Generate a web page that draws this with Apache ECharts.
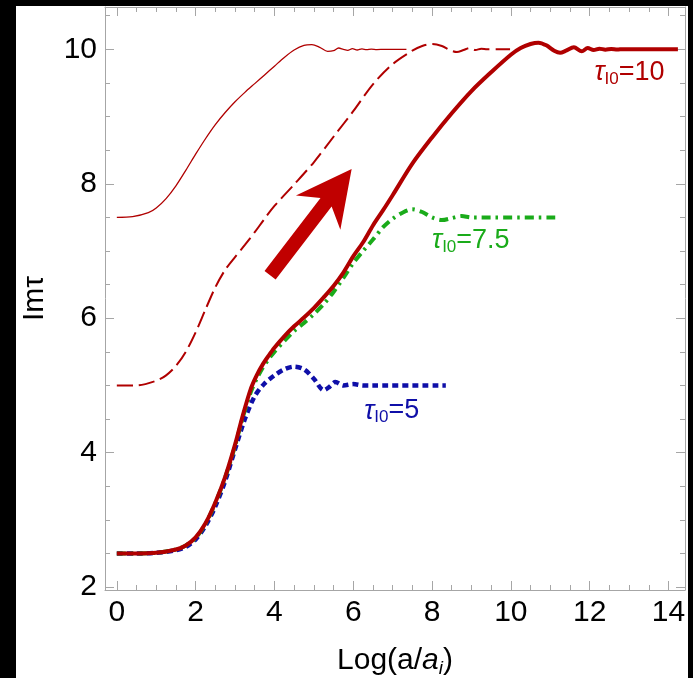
<!DOCTYPE html>
<html>
<head>
<meta charset="utf-8">
<script src="https://cdn.jsdelivr.net/npm/echarts@6/dist/echarts.min.js"></script>
<style>
html,body{margin:0;padding:0;background:#000;width:693px;height:678px;overflow:hidden;}
#chart{position:absolute;left:16px;top:6px;width:672px;height:672px;background:#fff;}
</style>
</head>
<body>
<div id="chart"></div>
<script>
// ---- data ----
var xMajorTicks = [0, 2, 4, 6, 8, 10, 12, 14];
var xMinorTicks = [0.5, 1, 1.5, 2.5, 3, 3.5, 4.5, 5, 5.5, 6.5, 7, 7.5, 8.5, 9, 9.5, 10.5, 11, 11.5, 12.5, 13, 13.5];
var yMajorTicks = [2, 4, 6, 8, 10];
var yMinorTicks = [2.5, 3, 3.5, 4.5, 5, 5.5, 6.5, 7, 7.5, 8.5, 9, 9.5, 10.5];

// thick red: tau_I0 = 10 starting from 2.5
var redThickX = [0, 0.5, 1.0, 1.5, 1.75, 2.0, 2.25, 2.5, 2.75, 3.0, 3.2, 3.4, 3.55, 3.7, 3.85, 4.0, 4.25, 4.5, 4.75, 5.0, 5.25, 5.5, 5.75, 6.0, 6.25, 6.5, 6.75, 7.0, 7.5, 8.0, 8.5, 9.0, 9.5, 10.0, 10.25, 10.5, 10.7, 10.9, 11.1, 11.25, 11.4, 11.6, 11.8, 11.95, 12.1, 12.25, 12.4, 12.55, 12.7, 12.85, 13.0, 13.5, 14.24];
var redThickY = [2.5, 2.5, 2.51, 2.56, 2.62, 2.74, 2.95, 3.26, 3.64, 4.12, 4.56, 4.95, 5.15, 5.31, 5.44, 5.56, 5.73, 5.88, 6.01, 6.15, 6.31, 6.48, 6.68, 6.92, 7.13, 7.38, 7.6, 7.83, 8.3, 8.69, 9.05, 9.38, 9.66, 9.92, 10.02, 10.08, 10.1, 10.06, 9.98, 9.95, 9.98, 10.03, 9.97, 10.02, 9.99, 10.01, 9.995, 10.006, 9.997, 10.003, 10.0, 10.0, 10.0];

// thin red: starting from 7.5
var redThinX = [0, 0.4, 0.8, 1.0, 1.25, 1.5, 1.75, 2.0, 2.25, 2.5, 2.75, 3.0, 3.25, 3.5, 3.75, 4.0, 4.25, 4.5, 4.75, 4.95, 5.15, 5.35, 5.5, 5.63, 5.75, 5.86, 5.98, 6.1, 6.22, 6.34, 6.46, 6.6, 6.8, 7.35];
var redThinY = [7.5, 7.51, 7.57, 7.64, 7.78, 7.97, 8.2, 8.44, 8.67, 8.88, 9.06, 9.22, 9.36, 9.49, 9.62, 9.75, 9.88, 9.99, 10.06, 10.07, 10.03, 9.97, 9.98, 10.02, 10.0, 9.985, 10.01, 9.99, 10.006, 9.995, 10.004, 9.997, 10.0, 10.0];

// dashed red: starting from 5
var redDashX = [0, 0.5, 1.0, 1.25, 1.5, 1.75, 2.0, 2.25, 2.5, 2.75, 3.0, 3.25, 3.5, 3.75, 4.0, 4.5, 5.0, 5.5, 6.0, 6.5, 7.0, 7.5, 7.75, 8.0, 8.25, 8.45, 8.63, 8.8, 8.95, 9.1, 9.25, 9.4, 9.98];
var redDashY = [5.0, 5.0, 5.07, 5.15, 5.29, 5.5, 5.79, 6.13, 6.46, 6.72, 6.91, 7.09, 7.28, 7.48, 7.67, 7.99, 8.32, 8.7, 9.08, 9.48, 9.78, 9.98, 10.05, 10.08, 10.05, 9.99, 9.96, 9.99, 10.02, 9.99, 10.01, 10.0, 10.0];

// green dash-dot: tau_I0 = 7.5
var greenX = [0, 0.5, 1.0, 1.5, 1.75, 2.0, 2.25, 2.5, 2.75, 3.0, 3.2, 3.4, 3.55, 3.7, 3.85, 4.0, 4.25, 4.5, 4.75, 5.0, 5.25, 5.5, 5.75, 6.0, 6.25, 6.5, 6.75, 7.0, 7.25, 7.5, 7.75, 8.0, 8.25, 8.5, 8.75, 9.0, 9.25, 11.2];
var greenY = [2.5, 2.5, 2.51, 2.56, 2.62, 2.73, 2.94, 3.25, 3.63, 4.1, 4.53, 4.9, 5.1, 5.26, 5.39, 5.5, 5.66, 5.81, 5.93, 6.06, 6.21, 6.39, 6.6, 6.82, 7.0, 7.17, 7.35, 7.48, 7.57, 7.62, 7.58, 7.5, 7.46, 7.49, 7.52, 7.5, 7.5, 7.5];

// blue dotted: tau_I0 = 5
var blueX = [0, 0.5, 1.0, 1.5, 1.75, 2.0, 2.25, 2.5, 2.75, 3.0, 3.25, 3.5, 3.75, 4.0, 4.25, 4.5, 4.75, 5.0, 5.25, 5.4, 5.55, 5.75, 6.0, 6.25, 6.5, 8.35];
var blueY = [2.5, 2.5, 2.51, 2.55, 2.6, 2.71, 2.91, 3.2, 3.58, 4.05, 4.5, 4.84, 5.03, 5.15, 5.24, 5.28, 5.24, 5.1, 4.93, 4.98, 5.05, 5.0, 5.02, 5.0, 5.0, 5.0];

// arrow annotation (data coordinates) and curve labels
var arrowStart = [3.89, 6.64];
var arrowEnd = [5.96, 8.22];
var label10Pos = [12.12, 9.65];
var label75Pos = [8.0, 7.15];
var label5Pos = [6.28, 4.62];

function pairs(xs, ys) { return xs.map(function (x, i) { return [x, ys[i]]; }); }

var RED = '#b00000';
var GREEN = '#1aab1a';
var BLUE = '#0f0fa8';
var AXIS = '#a6a6a6';
var FONT = '"Liberation Sans", Arial, Helvetica, sans-serif';
var FS = 30;

var xMin = -0.3, xMax = 14.42, yMin = 1.957, yMax = 10.63;

function xAx(pos, ticks, len, showLine, labels) {
  return {
    type: 'value', min: xMin, max: xMax, position: pos,
    axisLine: { show: showLine, onZero: false, lineStyle: { color: AXIS, width: 1 } },
    axisTick: { show: true, inside: true, length: len, customValues: ticks, lineStyle: { color: AXIS, width: 1 } },
    axisLabel: labels ? { show: true, customValues: ticks, color: '#000', fontSize: FS, fontFamily: FONT, margin: 8 } : { show: false },
    splitLine: { show: false }
  };
}
function yAx(pos, ticks, len, showLine, labels) {
  return {
    type: 'value', min: yMin, max: yMax, position: pos,
    axisLine: { show: showLine, onZero: false, lineStyle: { color: AXIS, width: 1 } },
    axisTick: { show: true, inside: true, length: len, customValues: ticks, lineStyle: { color: AXIS, width: 1 } },
    axisLabel: labels ? { show: true, customValues: ticks, color: '#000', fontSize: FS, fontFamily: FONT, margin: 8 } : { show: false },
    splitLine: { show: false }
  };
}

var xAxes = [xAx('bottom', xMajorTicks, 9, true, true), xAx('bottom', xMinorTicks, 5, false, false),
             xAx('top', xMajorTicks, 9, true, false), xAx('top', xMinorTicks, 5, false, false)];
xAxes[0].name = '{n|Log(a/}{i|a}{s|i}{n|)}';
xAxes[0].nameLocation = 'middle';
xAxes[0].nameGap = 54;
xAxes[0].nameTextStyle = {
  color: '#000', fontFamily: FONT,
  rich: {
    n: { fontSize: FS, fontFamily: FONT, color: '#000', lineHeight: 34 },
    i: { fontSize: FS, fontFamily: FONT, fontStyle: 'italic', color: '#000', lineHeight: 34 },
    s: { fontSize: 19, fontFamily: FONT, fontStyle: 'italic', color: '#000', verticalAlign: 'bottom', lineHeight: 19, padding: [13, 0, 0, 0] }
  }
};
var yAxes = [yAx('left', yMajorTicks, 9, true, true), yAx('left', yMinorTicks, 5, false, false),
             yAx('right', yMajorTicks, 9, true, false), yAx('right', yMinorTicks, 5, false, false)];
yAxes[0].name = 'Imτ';
yAxes[0].nameLocation = 'middle';
yAxes[0].nameGap = 55;
yAxes[0].nameTextStyle = { color: '#000', fontSize: FS, fontFamily: FONT };

function tauLabel(pos, val, color) {
  return {
    symbol: 'circle', symbolSize: 0, silent: true,
    data: [{ coord: pos }],
    label: {
      show: true, position: 'right', distance: 0,
      formatter: '{t|τ}{s|I0}{n|=' + val + '}',
      rich: {
        t: { fontSize: 27, fontFamily: FONT, fontStyle: 'italic', color: color, lineHeight: 29 },
        s: { fontSize: 17, fontFamily: FONT, color: color, verticalAlign: 'bottom', lineHeight: 17, padding: [10, 0, 0, 0] },
        n: { fontSize: 27, fontFamily: FONT, color: color, lineHeight: 29 }
      }
    }
  };
}

var option = {
  animation: false,
  backgroundColor: '#fff',
  grid: { left: 89, right: 3, top: 1, bottom: 88, containLabel: false, outerBoundsMode: 'none' },
  xAxis: xAxes,
  yAxis: yAxes,
  series: [
    {
      type: 'line', data: pairs(redThinX, redThinY), showSymbol: false, smooth: 0.3,
      lineStyle: { color: RED, width: 1.3 }, z: 3
    },
    {
      type: 'line', data: pairs(redDashX, redDashY), showSymbol: false, smooth: 0.3,
      lineStyle: { color: RED, width: 2, type: [16, 6] }, z: 3
    },
    {
      type: 'line', data: pairs(blueX, blueY), showSymbol: false, smooth: 0.3,
      lineStyle: { color: BLUE, width: 4.5, type: [6, 4] }, z: 3,
      markPoint: tauLabel(label5Pos, '5', BLUE)
    },
    {
      type: 'line', data: pairs(greenX, greenY), showSymbol: false, smooth: 0.3,
      lineStyle: { color: GREEN, width: 4, type: [9, 5, 2.5, 5] }, z: 4,
      markPoint: tauLabel(label75Pos, '7.5', GREEN)
    },
    {
      type: 'line', data: pairs(redThickX, redThickY), showSymbol: false, smooth: 0.3,
      lineStyle: { color: RED, width: 4 }, z: 5,
      markPoint: tauLabel(label10Pos, '10', RED)
    },
    {
      type: 'custom', z: 6, silent: true,
      data: [[arrowStart[0], arrowStart[1], arrowEnd[0], arrowEnd[1]]],
      encode: { x: [0, 2], y: [1, 3] },
      renderItem: function (params, api) {
        var p0 = api.coord([api.value(0), api.value(1)]);
        var p1 = api.coord([api.value(2), api.value(3)]);
        var dx = p1[0] - p0[0], dy = p1[1] - p0[1];
        var L = Math.sqrt(dx * dx + dy * dy);
        var ux = dx / L, uy = dy / L, nx = -uy, ny = ux;
        var hw = 7, headLen = 55, headHalf = 28, notch = 42;
        function pt(a, b) { return [p1[0] - ux * a + nx * b, p1[1] - uy * a + ny * b]; }
        var pts = [
          [p0[0] + nx * hw, p0[1] + ny * hw],
          pt(notch, hw),
          pt(headLen, headHalf),
          [p1[0], p1[1]],
          pt(headLen, -headHalf),
          pt(notch, -hw),
          [p0[0] - nx * hw, p0[1] - ny * hw]
        ];
        return { type: 'polygon', shape: { points: pts }, style: { fill: '#c00000' } };
      }
    }
  ]
};

var chart = echarts.init(document.getElementById('chart'), null, { renderer: 'canvas' });
chart.setOption(option);
</script>
</body>
</html>
